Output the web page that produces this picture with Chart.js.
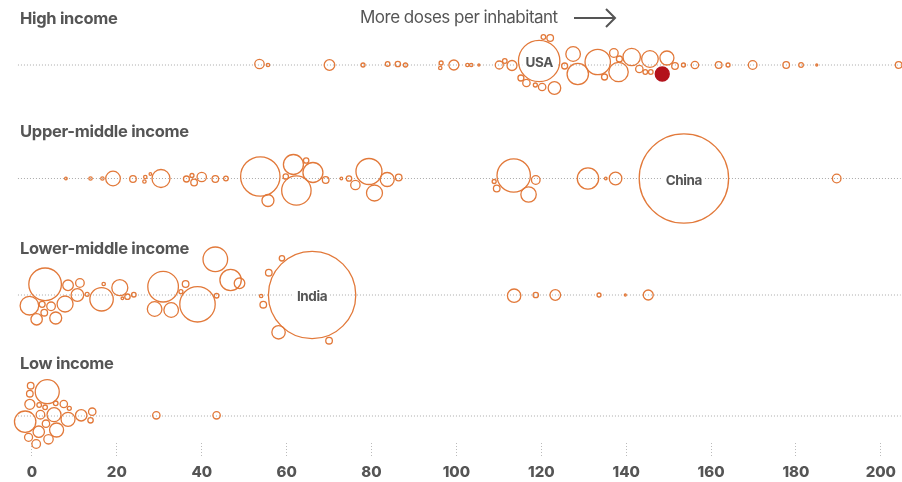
<!DOCTYPE html>
<html>
<head>
<meta charset="utf-8">
<script src="https://cdn.jsdelivr.net/npm/chart.js@4.4.1/dist/chart.umd.min.js"></script>
<style>
  html, body { margin: 0; padding: 0; background: #fff; }
  #wrap { position: relative; width: 902px; height: 482px; font-family: Inter, "Noto Sans", sans-serif; color: #555; }
  #chart { position: absolute; left: 0; top: 0; }
  .group-title { position: absolute; left: 20px; font-weight: 700; font-size: 16.5px; line-height: 16px; letter-spacing: -0.3px; white-space: nowrap; }
  .hint { position: absolute; left: 360px; top: 9px; font-size: 17px; line-height: 17px; letter-spacing: -0.5px; white-space: nowrap; }
  .hint svg { position: absolute; left: 213px; top: -1px; }
  .bubble-label { position: absolute; transform: translate(-50%, -50%); font-weight: 700; font-size: 13.5px; line-height: 14px; letter-spacing: -0.4px; background: #fff; padding: 0 3px; }
</style>
</head>
<body>
<div id="wrap">
  <canvas id="chart" width="902" height="482"></canvas>
  <div class="group-title" style="top:10px">High income</div>
  <div class="group-title" style="top:123px">Upper-middle income</div>
  <div class="group-title" style="top:240px">Lower-middle income</div>
  <div class="group-title" style="top:355px">Low income</div>
  <div class="hint">More doses per inhabitant<svg width="44" height="20" viewBox="0 0 44 20"><path d="M1 10 H41 M33 1 L42 10 L33 19" fill="none" stroke="#555" stroke-width="2"/></svg></div>
</div>
<script>
// doses per 100 inhabitants, offset from the row line, bubble radius (population)
const highDoses = [53.6, 55.6, 70.1, 78.0, 83.8, 86.2, 88.0, 96.4, 96.2, 99.4, 102.6, 103.5, 105.3, 110.1, 111.4, 113.1, 119.5, 120.5, 122.1, 115.2, 116.5, 118.6, 120.2, 123.1, 125.5, 127.5, 128.6, 133.3, 134.9, 137.1, 138.4, 138.2, 141.3, 143.1, 144.5, 145.8, 145.6, 149.6, 151.5, 153.5, 156.2, 161.8, 164.0, 169.8, 177.7, 181.2, 184.9, 204.2];
const highOffsets = [-1, 0, 0, 0, -1, -1, 0, -2, 3, 0, 0, 0, 0, 0, -4, 0.5, -4, -28, -27, 13, 18, 20, 22, 23, 1, -11, 9, -3, 12, -12, -6, 7, -8, 4, 7, 7, -6, -7, 1, 0, 0, 0, 0, 0, 0, 0, 0, 0];
const highSizes = [4.7, 1.7, 5.3, 2, 2.3, 2.7, 2, 2, 1.7, 5, 1.7, 1.7, 1, 4, 2.3, 5, 20.7, 2.3, 3.3, 3, 3.7, 2, 3.7, 6.3, 3, 7.3, 10.7, 12.7, 3, 4.3, 3, 9.7, 8.7, 3.7, 2.3, 2.3, 8.3, 7, 3.3, 2, 3.7, 3.3, 2, 4.3, 3.3, 2.3, 1, 3.3];

const upperDoses = [8.0, 13.8, 16.6, 19.1, 23.8, 26.7, 26.5, 27.9, 30.4, 36.4, 37.7, 38.2, 40.0, 43.2, 45.7, 53.8, 55.6, 61.6, 64.6, 59.8, 62.3, 66.2, 69.2, 72.9, 74.7, 76.2, 79.4, 80.7, 83.7, 86.4, 108.9, 109.5, 113.5, 118.7, 117.0, 131.0, 135.2, 137.5, 153.6, 189.6];
const upperOffsets = [0, 0, 0, 0, 0.5, -1.5, 3, -4.5, 0, 0.5, -3, 4, -1.5, 0.5, 0, -2, 22, -14, -18, -2, 12, -6, 1.5, 0, 0, 6.5, -7, 14.5, 1, -1, 3, 10, -3, 1.5, 16, 0, 0, 0, 0, 0];
const upperSizes = [1.3, 1.7, 1.7, 7.3, 3.3, 1.7, 1.7, 1.3, 9, 3, 2, 3.3, 4.7, 3.3, 2.3, 19.7, 6, 10, 2.7, 2.7, 14.7, 10, 3.3, 1.3, 2.7, 4.7, 13, 8, 7, 3.3, 2, 3.3, 16.7, 4.3, 7.7, 10.7, 1.3, 6.3, 44.7, 4.3];

const lowerDoses = [3.1, -0.6, 2.4, 2.9, 1.1, 4.5, 5.6, 7.8, 8.5, 11.3, 10.7, 13.0, 16.4, 16.9, 20.7, 21.3, 22.5, 24.0, 30.9, 28.9, 32.8, 36.2, 35.1, 39.0, 43.2, 43.5, 46.8, 48.9, 55.8, 58.9, 54.0, 54.5, 66.0, 58.1, 70.0, 113.6, 118.7, 123.3, 133.6, 139.8, 145.2];
const lowerOffsets = [-10.7, 10.7, 9.3, 17.7, 24.3, 11.3, 23, 9, -9.7, -12, 0, -0.7, 4.3, -11, -7.3, 3.3, 1.7, -0.3, -8.3, 14, 15, -11, -3.3, 9.3, -35.7, 0.7, -15, -11.7, -22.3, -36.7, 1, 9.7, 0, 37.3, 45.7, 0.7, 0, 0, 0, 0, 0];
const lowerSizes = [16.3, 9.3, 3, 3.3, 5.7, 4.3, 6, 8, 5.3, 4.3, 6.3, 2, 11.7, 1.7, 8, 1.3, 2.7, 2.3, 15.3, 7.3, 7.3, 3.3, 2, 17.7, 12.3, 2.3, 10.7, 5.3, 3.3, 2.7, 1.7, 3.3, 43.7, 6.7, 3.3, 6.7, 2.7, 5.3, 2, 1, 5];

const lowDoses = [-1.6, 3.6, -0.3, -0.5, -0.5, 1.7, 3.1, 2.0, 5.2, 5.6, 7.5, 8.8, 8.5, 3.3, 1.6, 5.8, -0.8, 3.9, 1.0, 3.3, 11.6, 14.2, 13.8, 29.3, 43.5];
const lowOffsets = [5.7, -24.3, -30.3, -22.3, -11.7, -11, -8.7, -1.3, -1.3, -12.7, -12, -7.7, 3.3, 7.7, 15.7, 14, 21.3, 23.3, 28, 34, -0.7, -4.3, 4.3, -0.7, -0.7];
const lowSizes = [10.7, 12, 3.3, 3.3, 5, 2.3, 2.3, 4.3, 7, 2.3, 3.7, 2, 7, 3.7, 5.7, 7, 4, 4.7, 4.3, 5, 5.7, 3.7, 2.7, 3.7, 3.7];

// highlighted high-income country (filled)
const highlightDoses = [148.5];
const highlightOffsets = [9];
const highlightSizes = [7];

const tickValues = [0, 20, 40, 60, 80, 100, 120, 140, 160, 180, 200];
const lineRange = [-3.3, 204.7];

const ORANGE = '#e2793a';
const rowLines = { high: 65, upper: 178.5, lower: 295, low: 416 };

function toPoints(doses, offsets, sizes, base) {
  return doses.map((d, i) => ({ x: d, y: base + offsets[i], r: sizes[i] }));
}

function rowLine(base) {
  return {
    type: 'line',
    data: lineRange.map(x => ({ x, y: base })),
    borderColor: '#aaa',
    borderWidth: 1,
    borderDash: [1, 2],
    pointRadius: 0,
    order: 2
  };
}

function bubbleSet(points, color, fill) {
  return {
    type: 'bubble',
    data: points,
    borderColor: color,
    backgroundColor: fill,
    borderWidth: 1.3,
    clip: false,
    order: 1
  };
}

const datasets = [
  rowLine(rowLines.high), rowLine(rowLines.upper), rowLine(rowLines.lower), rowLine(rowLines.low),
  bubbleSet(toPoints(highDoses, highOffsets, highSizes, rowLines.high), ORANGE, 'rgba(0,0,0,0)'),
  bubbleSet(toPoints(upperDoses, upperOffsets, upperSizes, rowLines.upper), ORANGE, 'rgba(0,0,0,0)'),
  bubbleSet(toPoints(lowerDoses, lowerOffsets, lowerSizes, rowLines.lower), ORANGE, 'rgba(0,0,0,0)'),
  bubbleSet(toPoints(lowDoses, lowOffsets, lowSizes, rowLines.low), ORANGE, 'rgba(0,0,0,0)'),
  bubbleSet(toPoints(highlightDoses, highlightOffsets, highlightSizes, rowLines.high), '#b3121b', '#b3121b')
];

const chart = new Chart(document.getElementById('chart'), {
  type: 'bubble',
  data: { datasets },
  options: {
    responsive: false,
    animation: false,
    events: [],
    layout: { padding: 0, autoPadding: false },
    plugins: { legend: { display: false }, tooltip: { enabled: false } },
    scales: {
      x: {
        type: 'linear',
        min: -32 / 4.25,
        max: 870 / 4.25,
        afterBuildTicks: axis => { axis.ticks = tickValues.map(v => ({ value: v })); },
        afterFit: axis => { axis.height = 39; },
        border: { display: false },
        grid: {
          drawOnChartArea: false,
          drawTicks: true,
          tickLength: 14,
          tickColor: '#bbb',
          tickWidth: 1,
          tickBorderDash: [1, 2]
        },
        ticks: {
          padding: 6,
          color: '#555',
          maxRotation: 0,
          autoSkip: false,
          font: { family: 'Inter', weight: '800', size: 15 }
        }
      },
      y: {
        type: 'linear',
        display: false,
        reverse: true,
        min: 0,
        max: 443
      }
    }
  }
});

// country names sit on their bubbles
const bubbleLabels = [
  { text: 'USA', x: highDoses[16], y: rowLines.high + highOffsets[16] },
  { text: 'China', x: upperDoses[38], y: rowLines.upper + upperOffsets[38] },
  { text: 'India', x: lowerDoses[32], y: rowLines.lower + lowerOffsets[32] }
];

const wrap = document.getElementById('wrap');
bubbleLabels.forEach(l => {
  const div = document.createElement('div');
  div.className = 'bubble-label';
  div.innerText = l.text;
  div.style.left = chart.scales.x.getPixelForValue(l.x) + 'px';
  div.style.top = chart.scales.y.getPixelForValue(l.y) + 1 + 'px';
  wrap.appendChild(div);
});
</script>
</body>
</html>
